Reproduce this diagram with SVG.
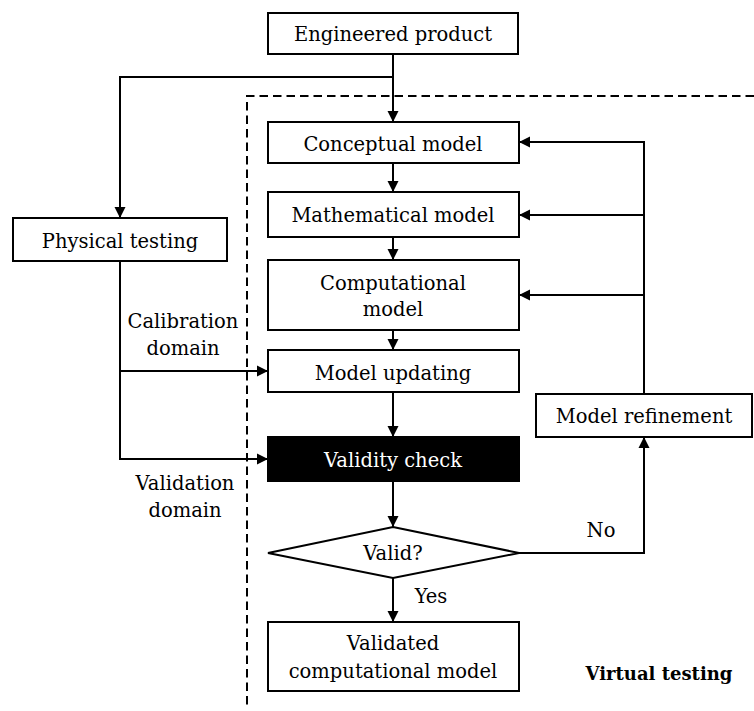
<svg xmlns="http://www.w3.org/2000/svg" width="754" height="711" viewBox="0 0 754 711">
  <style>
    .box { fill: #fff; stroke: #000; stroke-width: 2; }
    .dark { fill: #000; stroke: #000; stroke-width: 2; }
    .lbl { font-family: "DejaVu Serif", "Liberation Serif", serif; font-size: 19.5px; fill: #000; text-anchor: middle; }
    .inv { fill: #fff; }
    .bold { font-weight: bold; font-size: 18px; }
    .edge { fill: none; stroke: #000; stroke-width: 2; }
    .arr { marker-end: url(#head); }
    .zone { fill: none; stroke: #000; stroke-width: 2; stroke-dasharray: 8.5 5; }
  </style>
  <defs>
    <marker id="head" markerUnits="userSpaceOnUse" markerWidth="12" markerHeight="12" viewBox="0 0 12 12" refX="11" refY="6" orient="auto">
      <path d="M0,0.5 L11,6 L0,11.5 Z" fill="#000"/>
    </marker>
  </defs>

  <!-- virtual testing boundary -->
  <path class="zone" d="M754,96 H247 V708"/>
  <text class="lbl bold" x="659" y="680">Virtual testing</text>

  <g id="connectors">
    <path class="edge arr" d="M393,54 V122"/>
    <path class="edge arr" d="M393,77 H120 V218"/>
    <path class="edge arr" d="M393,163 V192"/>
    <path class="edge arr" d="M393,237 V260"/>
    <path class="edge arr" d="M393,330 V350"/>
    <path class="edge arr" d="M393,392 V437"/>
    <path class="edge arr" d="M393,481 V527"/>
    <path class="edge arr" d="M393,578 V622"/>
    <path class="edge arr" d="M519,553 H644 V437"/>
    <path class="edge arr" d="M644,394 V142 H519"/>
    <path class="edge arr" d="M644,215 H519"/>
    <path class="edge arr" d="M644,295 H519"/>
    <path class="edge arr" d="M120,261 V459 H268"/>
    <path class="edge arr" d="M120,371 H268"/>
    <text class="lbl" x="183" y="328">Calibration</text>
    <text class="lbl" x="183" y="355">domain</text>
    <text class="lbl" x="185" y="490">Validation</text>
    <text class="lbl" x="185" y="517">domain</text>
    <text class="lbl" x="431" y="603">Yes</text>
    <text class="lbl" x="601" y="537">No</text>
  </g>

  <g id="engineered-product">
    <rect class="box" x="268" y="13" width="250" height="41"/>
    <text class="lbl" x="393" y="41">Engineered product</text>
  </g>
  <g id="physical-testing">
    <rect class="box" x="13" y="218" width="214" height="43"/>
    <text class="lbl" x="120" y="248">Physical testing</text>
  </g>
  <g id="conceptual-model">
    <rect class="box" x="268" y="122" width="251" height="41"/>
    <text class="lbl" x="393" y="151">Conceptual model</text>
  </g>
  <g id="mathematical-model">
    <rect class="box" x="268" y="192" width="251" height="45"/>
    <text class="lbl" x="393" y="222">Mathematical model</text>
  </g>
  <g id="computational-model">
    <rect class="box" x="268" y="260" width="251" height="70"/>
    <text class="lbl" x="393" y="290">Computational</text>
    <text class="lbl" x="393" y="316">model</text>
  </g>
  <g id="model-updating">
    <rect class="box" x="268" y="350" width="251" height="42"/>
    <text class="lbl" x="393" y="380">Model updating</text>
  </g>
  <g id="validity-check">
    <rect class="dark" x="268" y="437" width="251" height="44"/>
    <text class="lbl inv" x="393" y="467">Validity check</text>
  </g>
  <g id="valid-decision">
    <polygon class="box" points="393,527 519,553 393,578 268,553"/>
    <text class="lbl" x="393" y="560">Valid?</text>
  </g>
  <g id="validated-model">
    <rect class="box" x="268" y="622" width="251" height="69"/>
    <text class="lbl" x="393" y="650">Validated</text>
    <text class="lbl" x="393" y="678">computational model</text>
  </g>
  <g id="model-refinement">
    <rect class="box" x="536" y="394" width="216" height="43"/>
    <text class="lbl" x="644" y="423">Model refinement</text>
  </g>
</svg>
